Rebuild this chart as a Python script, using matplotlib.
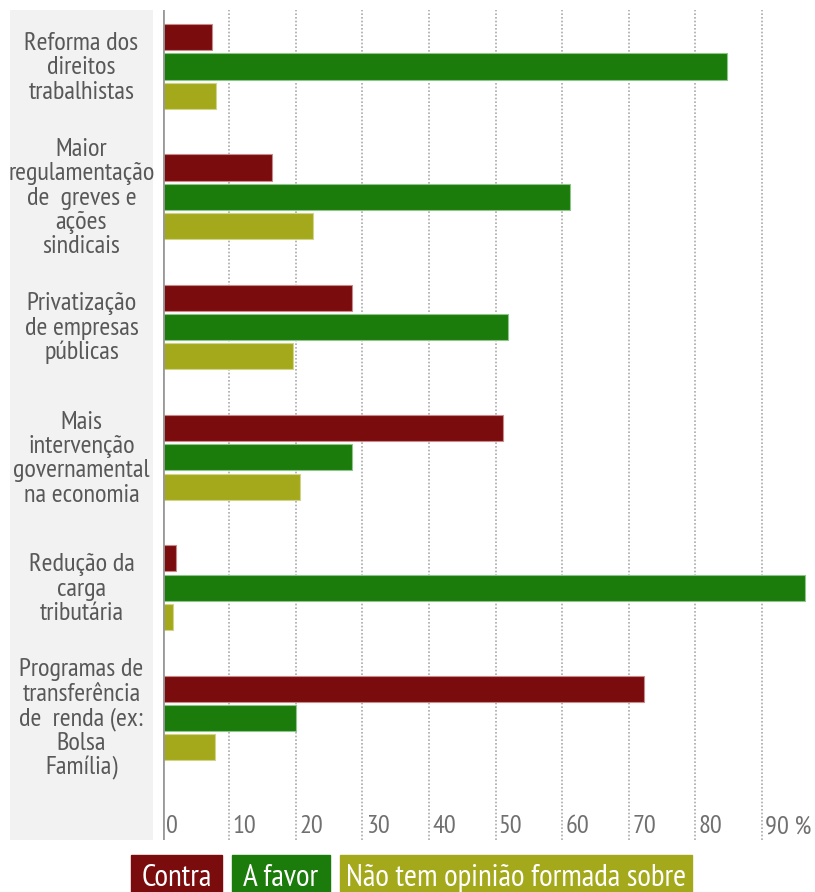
import numpy as np
import matplotlib.pyplot as plt
from matplotlib import font_manager
from matplotlib.patches import Rectangle
from matplotlib.transforms import blended_transform_factory

# dados (%)
categorias = [
    "Reforma dos\ndireitos\ntrabalhistas",
    "Maior\nregulamentação\nde  greves e\nações\nsindicais",
    "Privatização\nde empresas\npúblicas",
    "Mais\nintervenção\ngovernamental\nna economia",
    "Redução da\ncarga\ntributária",
    "Programas de\ntransferência\nde  renda (ex:\nBolsa\nFamília)",
]
contra = [7.5, 16.4, 28.5, 51.1, 2.1, 72.3]
a_favor = [84.7, 61.2, 51.9, 28.5, 96.5, 20.1]
sem_opiniao = [8.1, 22.6, 19.6, 20.7, 1.6, 7.9]

series_nomes = ["Contra", "A favor", "Não tem opinião formada sobre"]
cores = ["#7b0c0e", "#1b7b0b", "#a4a91b"]
bordas = ["#c98a8a", "#8fc48a", "#d0d38a"]
xticks = [0, 10, 20, 30, 40, 50, 60, 70, 80, 90]
xtick_labels = ["0", "10", "20", "30", "40", "50", "60", "70", "80", "90 %"]

# fonte estreita, se houver
disponiveis = {f.name for f in font_manager.fontManager.ttflist}
preferidas = ['PT Sans Narrow', 'Roboto Condensed', 'Liberation Sans Narrow', 'Roboto']
fonte = next((f for f in preferidas if f in disponiveis), 'DejaVu Sans')
plt.rcParams['font.family'] = [fonte, 'DejaVu Sans']

W, H = 815, 892
fig = plt.figure(figsize=(W / 100, H / 100), dpi=100)

top_px, bot_px = 10, 840
x0_px = 162.5
px_per_unit = 6.66
ax = fig.add_axes([x0_px / W, 1 - bot_px / H, (W - x0_px) / W, (bot_px - top_px) / H])

pitch = 0.225
alto = 0.2
y = np.arange(len(categorias))
for k, (vals, cor, borda) in enumerate(zip([contra, a_favor, sem_opiniao], cores, bordas)):
    ax.barh(y + (k - 1) * pitch, vals, height=alto, color=cor,
            edgecolor=borda, linewidth=0.8, zorder=3)

ax.set_xlim(0, (W - x0_px) / px_per_unit)
ax.set_ylim((bot_px - 66.5) / 130.3, (top_px - 66.5) / 130.3)

# grade pontilhada
for v in xticks[1:]:
    ax.axvline(v, color='#aaaaaa', linestyle=(0, (1, 1.2)), linewidth=1.2, zorder=1)
ax.axvline(0, color='#999999', linewidth=2, zorder=4)

# rótulos do eixo x dentro da área
y_tick = (827 - 66.5) / 130.3
for v, lab in zip(xticks, xtick_labels):
    ax.text(v + 0.5, y_tick, lab, ha='left', va='center', fontsize=19, color='#707070')

ax.set_xticks([])
ax.set_yticks([])
for s in ax.spines.values():
    s.set_visible(False)

# painel cinza com as categorias
ax_lab = fig.add_axes([10 / W, 1 - bot_px / H, 143 / W, (bot_px - top_px) / H], sharey=ax)
ax_lab.set_facecolor('#f2f2f2')
ax_lab.set_xticks([])
ax_lab.tick_params(left=False, labelleft=False)
for s in ax_lab.spines.values():
    s.set_visible(False)
trans = blended_transform_factory(ax_lab.transAxes, ax_lab.transData)
for i, cat in enumerate(categorias):
    ax_lab.text(0.5, i + 0.01, cat, transform=trans, ha='center', va='center',
                fontsize=19, color='#585858', linespacing=1.07, clip_on=False)

# legenda em caixas coloridas
caixas = [(131, 222), (232, 330), (340, 692)]
for (xa, xb), nome, cor in zip(caixas, series_nomes, cores):
    fig.patches.append(Rectangle((xa / W, 0), (xb - xa) / W, (H - 855) / H,
                                 transform=fig.transFigure, color=cor))
    fig.text((xa + xb) / 2 / W, 1 - 878 / H, nome, ha='center', va='center',
             fontsize=22.5, color='white')

fig.savefig('out.png', dpi=100)
plt.close(fig)
